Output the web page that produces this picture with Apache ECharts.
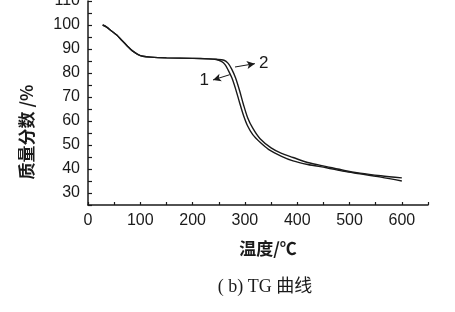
<!DOCTYPE html>
<html>
<head>
<meta charset="utf-8">
<script src="https://cdn.jsdelivr.net/npm/echarts@6/dist/echarts.min.js"></script>
<style>
html,body{margin:0;padding:0;background:#fff;}
#chart{width:455px;height:312px;}
</style>
</head>
<body>
<div id="chart"></div>
<script>
// Temperature (°C) and mass fraction (%)
const curve1T = [28, 35, 45, 55, 65, 75, 85, 95, 105, 120, 150, 200, 230, 245, 255, 262, 268, 275, 282, 290, 297, 305, 315, 329, 345, 370, 392, 420, 456, 490, 520, 560, 600];
const curve1V = [100, 99.2, 97.5, 95.8, 93.5, 91.3, 89.2, 87.8, 87.0, 86.6, 86.3, 86.1, 85.9, 85.6, 84.8, 83.5, 81.2, 78.0, 73.5, 67.5, 62.5, 58.0, 54.3, 51.1, 48.2, 45.3, 43.4, 41.9, 40.5, 39.0, 38.0, 36.6, 35.0];
const curve2T = [28, 35, 45, 55, 65, 75, 85, 95, 105, 120, 150, 200, 230, 245, 260, 268, 275, 282, 290, 297, 305, 315, 329, 350, 370, 392, 420, 456, 490, 520, 560, 600];
const curve2V = [100, 99.2, 97.5, 95.8, 93.5, 91.3, 89.2, 87.8, 87.0, 86.6, 86.3, 86.1, 85.9, 85.7, 85.3, 84.0, 81.5, 78.0, 72.5, 67.0, 61.5, 57.0, 52.6, 48.8, 46.5, 44.8, 42.7, 41.0, 39.4, 38.3, 37.2, 36.3];
const xTickLabels = [0, 100, 200, 300, 400, 500, 600];
const yTickLabels = [30, 40, 50, 60, 70, 80, 90, 100, 110];
// annotation anchors (data space): curve point, label-side point, label point
const note1 = {from: [271, 79.3], to: [239, 77.1], text: '1', at: [222, 76.8]};
const note2 = {from: [281, 82.5], to: [319, 83.9], text: '2', at: [336, 84.0]};

const zip = (a, b) => a.map((t, i) => [t, b[i]]);
const black = '#1a1a1a';
const chart = echarts.init(document.getElementById('chart'), null, {renderer: 'canvas'});

function noteMarks(n) {
  return {
    markLine: {
      silent: true, animation: false,
      symbol: ['none', 'arrow'], symbolSize: [6, 8],
      lineStyle: {color: black, type: 'solid', width: 1},
      label: {show: false},
      data: [[{coord: n.from}, {coord: n.to}]]
    },
    markPoint: {
      silent: true, animation: false,
      symbol: 'circle', symbolSize: 0,
      label: {show: true, position: 'inside', formatter: n.text, color: black,
              fontSize: 17, fontFamily: 'Liberation Sans, Arial, sans-serif'},
      data: [{coord: n.at}]
    }
  };
}

chart.setOption({
  animation: false,
  backgroundColor: '#fff',
  grid: {left: 88, right: 27, top: 1, bottom: 107, containLabel: false, outerBoundsMode: 'none'},
  xAxis: {
    type: 'value', min: 0, max: 650, interval: 50,
    axisLine: {lineStyle: {color: black, width: 1.5}},
    axisTick: {inside: true, length: 3, lineStyle: {color: black, width: 1.2}},
    splitLine: {show: false},
    axisLabel: {
      color: black, fontSize: 16, margin: 8,
      fontFamily: 'Liberation Sans, Arial, sans-serif',
      formatter: v => xTickLabels.includes(v) ? String(v) : ''
    }
  },
  yAxis: {
    type: 'value', min: 25, max: 110, interval: 5,
    axisLine: {show: true, lineStyle: {color: black, width: 1.5}},
    axisTick: {show: true, inside: true, length: 4, lineStyle: {color: black, width: 1.2}},
    splitLine: {show: false},
    axisLabel: {
      color: black, fontSize: 16, margin: 8,
      fontFamily: 'Liberation Sans, Arial, sans-serif',
      formatter: v => yTickLabels.includes(v) ? String(v) : ''
    }
  },
  graphic: [
    {type: 'text', x: 27, y: 132, rotation: Math.PI / 2,
     style: {text: '质量分数 /%', fill: black, font: 'bold 17px "Noto Sans CJK SC", sans-serif',
             textAlign: 'center', textVerticalAlign: 'middle'}},
    {type: 'text', x: 268, y: 249,
     style: {text: '温度/℃', fill: black, font: 'bold 17px "Noto Sans CJK SC", sans-serif',
             textAlign: 'center', textVerticalAlign: 'middle'}},
    {type: 'text', x: 265, y: 287,
     style: {text: '( b) TG 曲线', fill: black, font: '18px "Liberation Serif", "DejaVu Serif", "Noto Sans CJK SC", serif',
             textAlign: 'center', textVerticalAlign: 'middle'}}
  ],
  series: [
    Object.assign({
      name: '1', type: 'line', data: zip(curve1T, curve1V), smooth: 0.3,
      showSymbol: false, lineStyle: {color: black, width: 1.4}, z: 3
    }, noteMarks(note1)),
    Object.assign({
      name: '2', type: 'line', data: zip(curve2T, curve2V), smooth: 0.3,
      showSymbol: false, lineStyle: {color: black, width: 1.4}, z: 3
    }, noteMarks(note2))
  ]
});
</script>
</body>
</html>
